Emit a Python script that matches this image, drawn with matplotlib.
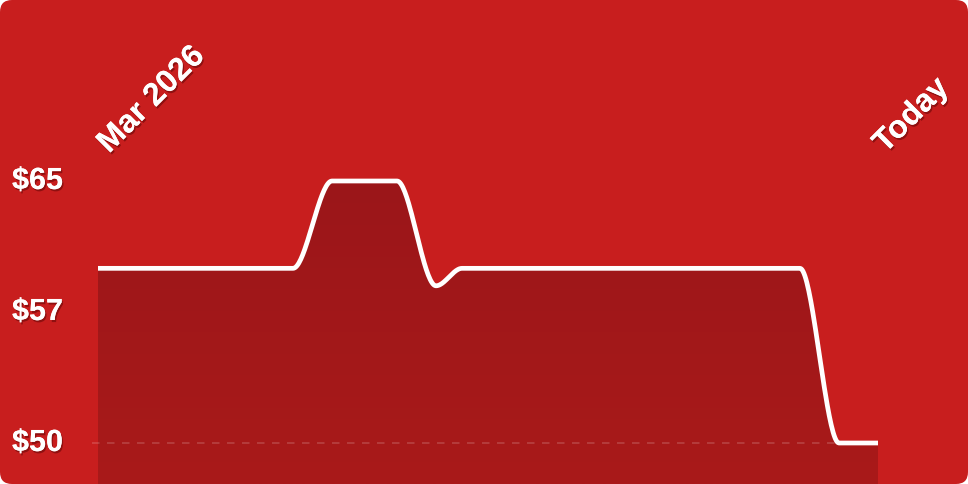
import numpy as np
import matplotlib
matplotlib.use("Agg")
import matplotlib.pyplot as plt
import matplotlib.transforms as mtransforms
import matplotlib.patheffects as pe
from matplotlib.patches import FancyBboxPatch
from matplotlib.colors import LinearSegmentedColormap

# ---- data ----
day_offsets = [0, 15, 18, 23, 26, 28, 54, 57, 60]          # days since Mar 1 2026
prices      = [60, 60, 65, 65, 59, 60, 60, 50, 50]
y_ticks       = [50, 57.5, 65]
y_tick_labels = ["$50", "$57", "$65"]
x_labels      = ["Mar 2026", "Today"]
x_label_pos   = [0, 60]

BG = "#C81E1E"
FILL_TOP = "#9B1619"
FILL_BOT = "#A91A1A"


def monotone_x(x, y, n=40):
    x = np.asarray(x, float); y = np.asarray(y, float)
    h = np.diff(x); s = np.diff(y) / h
    m = np.zeros_like(y)
    for i in range(1, len(x) - 1):
        s0, s1 = s[i - 1], s[i]
        p = (s0 * h[i] + s1 * h[i - 1]) / (h[i - 1] + h[i])
        m[i] = (np.sign(s0) + np.sign(s1)) * min(abs(s0), abs(s1), 0.5 * abs(p))
    m[0] = (3 * s[0] - m[1]) / 2 if len(x) > 2 else s[0]
    m[-1] = (3 * s[-1] - m[-2]) / 2 if len(x) > 2 else s[-1]
    xs, ys = [], []
    for i in range(len(x) - 1):
        t = np.linspace(0, 1, n, endpoint=(i == len(x) - 2))
        h00 = 2 * t**3 - 3 * t**2 + 1
        h10 = t**3 - 2 * t**2 + t
        h01 = -2 * t**3 + 3 * t**2
        h11 = t**3 - t**2
        xs.append(x[i] + t * h[i])
        ys.append(h00 * y[i] + h10 * h[i] * m[i] + h01 * y[i + 1] + h11 * h[i] * m[i + 1])
    return np.concatenate(xs), np.concatenate(ys)


W, H = 968, 484
fig = plt.figure(figsize=(W / 100, H / 100), dpi=100, facecolor="white")

# rounded card background
card = FancyBboxPatch((0, 0), W / 100, H / 100,
                      boxstyle="round,pad=0,rounding_size=0.12",
                      transform=fig.dpi_scale_trans, facecolor=BG,
                      edgecolor="none", zorder=-10)
fig.patches.append(card)

ax = fig.add_axes([98 / W, 0, 780 / W, (H - 160) / H])
ax.set_facecolor("none")
ax.set_zorder(1)
for s in ax.spines.values():
    s.set_visible(False)
ax.set_xticks([]); ax.set_yticks([])

scale = (443 - 181) / 15.0
ylo = 50 - (H - 443) / scale
yhi = 65 + (181 - 160) / scale
ax.set_xlim(day_offsets[0], day_offsets[-1])
ax.set_ylim(ylo, yhi)

xs, ys = monotone_x(day_offsets, prices)

# gradient fill clipped to area under curve
poly = ax.fill_between(xs, ys, ylo, facecolor="none", edgecolor="none")
grad = np.linspace(0, 1, 256).reshape(-1, 1)
cmap = LinearSegmentedColormap.from_list("g", [FILL_TOP, FILL_BOT])
im = ax.imshow(grad, extent=[day_offsets[0], day_offsets[-1], ylo, max(prices)],
               origin="upper", cmap=cmap, aspect="auto", zorder=1)
im.set_clip_path(poly.get_paths()[0], transform=ax.transData)

# dashed baseline at min
ax.axhline(y_ticks[0], xmin=-6 / 780, xmax=1, color="white", alpha=0.18,
           lw=1.2, dashes=(4.5, 4.5), clip_on=False, zorder=2)

ax.plot(xs, ys, color="white", lw=3.4, solid_capstyle="butt",
        solid_joinstyle="round", zorder=3)

shadow = [pe.withSimplePatchShadow(offset=(1, -1.5), shadow_rgbFace="#4a0000", alpha=0.45),
          pe.Normal()]
font = dict(family=["Liberation Sans", "DejaVu Sans"], weight="bold", color="white")

tr_y = mtransforms.blended_transform_factory(fig.transFigure, ax.transData)
for v, lab in zip(y_ticks, y_tick_labels):
    ax.text(12 / W, v, lab, transform=tr_y, ha="left", va="center", fontsize=22,
            path_effects=shadow, clip_on=False, **font)

tr_x = mtransforms.blended_transform_factory(ax.transData, fig.transFigure)
for v, lab, dx in zip(x_label_pos, x_labels, [11, 7]):
    off = mtransforms.ScaledTranslation(dx / 100, 0, fig.dpi_scale_trans)
    ax.text(v, (H - 154) / H, lab, transform=tr_x + off, rotation=45,
            rotation_mode="anchor", ha="left", va="baseline", fontsize=23,
            path_effects=shadow, clip_on=False, **font)

fig.savefig("out.png", dpi=100, facecolor="white")
